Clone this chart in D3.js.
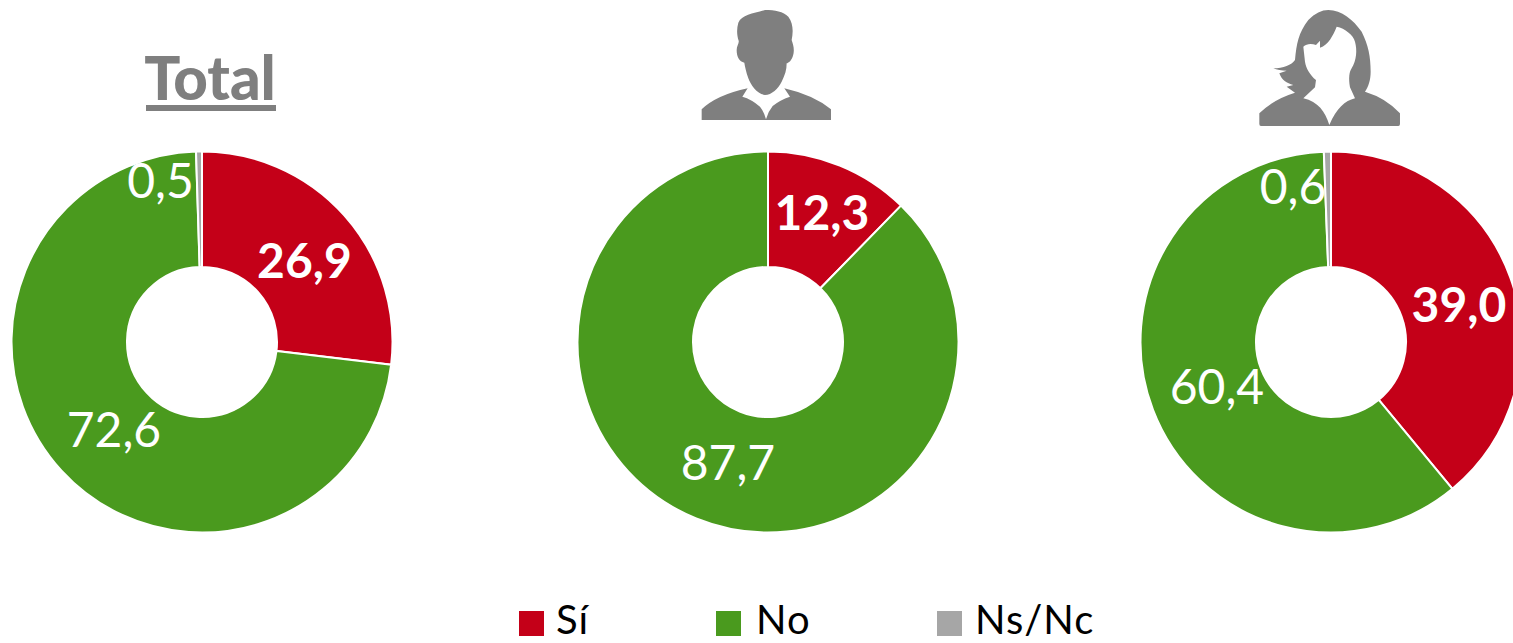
<!DOCTYPE html>
<html><head><meta charset="utf-8">
<script src="https://cdn.jsdelivr.net/npm/d3@7"></script>
<style>html,body{margin:0;padding:0;background:#fff;overflow:hidden}text{font-family:Lato,"Open Sans",sans-serif}</style>
</head><body><svg id="c" width="1513" height="643"></svg>
<script>
const categories = ["Sí","No","Ns/Nc"];
const colors = ["#C40018","#4A9A1E","#A6A6A6"];
const totalValues = [26.9,72.6,0.5];
const menValues = [12.3,87.7,0];
const womenValues = [39.0,60.4,0.6];
const fmt = v => v.toFixed(1).replace(".",",");

const svg = d3.select("#c");
const charts = [
  {values:totalValues, cx:202, labels:[[304.5,278,true],[114,447,false],[160.5,198,false]]},
  {values:menValues,   cx:768, labels:[[822,230,true],[728,480,false],null]},
  {values:womenValues, cx:1331,labels:[[1459,322,true],[1217,404,false],[1293,204,false]]}
];
const cy = 342;
const pie = d3.pie().sort(null).value(d=>d);
const arc = d3.arc().innerRadius(75).outerRadius(190.5);
charts.forEach(c=>{
  const g = svg.append("g").attr("transform",`translate(${c.cx},${cy})`);
  g.selectAll("path").data(pie(c.values)).join("path")
    .attr("d",arc).attr("fill",(d,i)=>colors[i])
    .attr("stroke","#fff").attr("stroke-width",2);
  c.values.forEach((v,i)=>{
    const l = c.labels[i];
    if(!l) return;
    svg.append("text").attr("x",l[0]).attr("y",l[1]).attr("text-anchor","middle")
      .attr("fill","#fff").attr("font-size",48).attr("font-weight",l[2]?700:400).text(fmt(v));
  });
});

// Title
svg.append("text").attr("x",210).attr("y",100).attr("text-anchor","middle")
  .attr("fill","#7F7F7F").attr("font-size",60).attr("font-weight",900).text("Total");
svg.append("rect").attr("x",146).attr("y",105).attr("width",130).attr("height",6).attr("fill","#7F7F7F");

// Man icon
const man = svg.append("g").attr("transform","translate(680,0) scale(0.3333)").attr("fill","#7F7F7F");
man.append("path").attr("d","M65,360 L65,328 Q110,285 203,265 L187,290 Q215,298 240,320 Q252,335 258,358 Q264,335 278,318 Q300,300 330,290 L313,265 Q400,285 453,328 L453,360 Z");
man.append("path").attr("d","M255,285 C232,283 212,255 205,235 C198,215 195,200 193,188 C178,185 170,170 170,150 C170,138 178,130 176,122 C170,105 170,85 175,68 C185,45 220,40 255,30 C285,30 310,35 325,50 C340,70 340,95 335,120 C340,135 345,150 338,170 C332,185 325,188 320,190 C320,210 315,225 305,245 C295,265 275,285 255,285 Z");

// Woman icon
const woman = svg.append("g").attr("transform","translate(1240,0) scale(0.3333)").attr("fill","#7F7F7F");
woman.append("path").attr("d","M100,205 C130,205 155,195 165,180 C170,130 175,100 205,60 C225,40 245,30 265,30 C305,30 340,60 365,95 C385,135 392,170 392,215 C392,240 385,260 375,275 Q440,295 480,340 L480,372 Q480,378 475,378 L63,378 Q58,378 58,372 L58,340 Q100,298 165,278 L140,260 L160,255 C140,250 125,240 118,220 L140,212 C125,212 110,210 100,205 Z");
woman.append("path").attr("fill","#fff").attr("d","M190,140 C200,130 215,130 228,135 L240,122 L240,143 C265,135 280,105 290,80 C315,85 340,105 345,125 C352,150 350,180 335,205 C328,215 325,235 330,262 L345,295 C315,302 290,325 268,375 C255,335 235,305 190,295 L225,262 L228,240 C210,225 198,205 195,185 Z");

// Legend
const legendSwatch = [519,716,937];
const legendText = [556,756,975];
categories.forEach((c,i)=>{
  svg.append("rect").attr("x",legendSwatch[i]).attr("y",611).attr("width",25).attr("height",25).attr("fill",colors[i]);
  svg.append("text").attr("x",legendText[i]).attr("y",634).attr("font-size",40).attr("letter-spacing",1).attr("fill","#000").text(c);
});
</script></body></html>
